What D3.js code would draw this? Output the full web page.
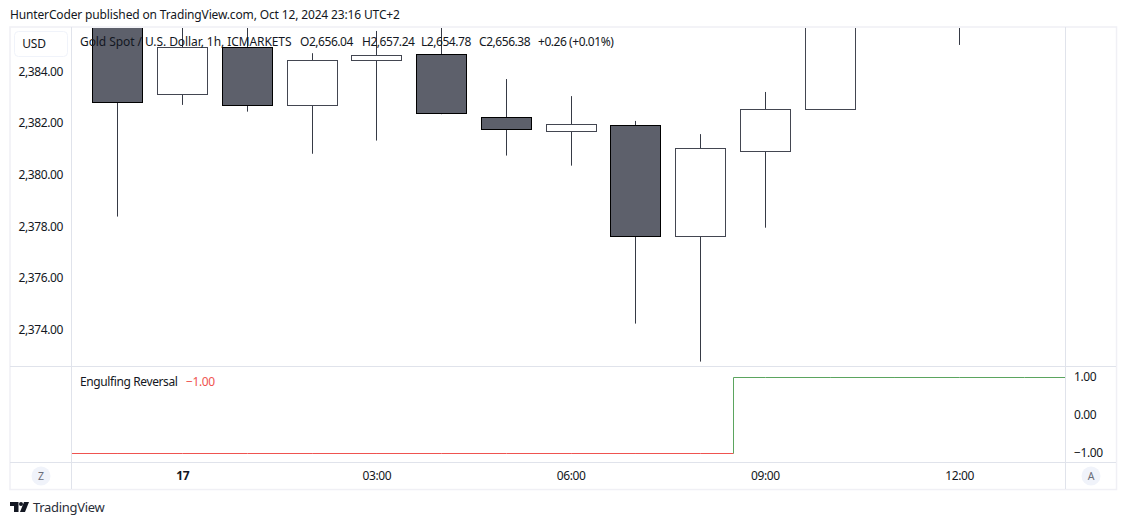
<!DOCTYPE html>
<html>
<head>
<meta charset="utf-8">
<script src="https://cdn.jsdelivr.net/npm/d3@7"></script>
<style>
  html, body { margin: 0; padding: 0; background: #fff; overflow: hidden; }
  svg { display: block; }
  text { font-family: "Noto Sans", sans-serif; fill: #131722; }
</style>
</head>
<body>
<div id="chart"></div>
<script>
// values, offscreen ones are guesses
var hours = [-1, 0, 1, 2, 3, 4, 5, 6, 7, 8, 9, 10, 11, 12];
var opens = [2386.2, 2383.11, 2384.92, 2382.68, 2384.44, 2384.66, 2382.22, 2381.68, 2381.91, 2377.62, 2380.91, 2382.53, 2388.4, 2388.0];
var highs = [2387.0, 2385.8, 2386.0, 2384.70, 2385.56, 2385.9, 2383.70, 2383.04, 2382.08, 2381.57, 2383.20, 2388.9, 2391.0, 2391.0];
var lows = [2378.38, 2382.70, 2382.44, 2380.81, 2381.32, 2382.34, 2380.74, 2380.35, 2374.24, 2372.77, 2377.95, 2382.53, 2386.8, 2385.02];
var closes = [2382.79, 2384.93, 2382.68, 2384.43, 2384.62, 2382.38, 2381.76, 2381.95, 2377.62, 2381.02, 2382.53, 2388.4, 2388.0, 2390.0];

var priceTicks = [2384, 2382, 2380, 2378, 2376, 2374];
var signalTicks = [1, 0, -1];
var timeTicks = [0, 3, 6, 9, 12];
var timeLabels = ["17", "03:00", "06:00", "09:00", "12:00"];

var signalHours = [-2, -1, 0, 1, 2, 3, 4, 5, 6, 7, 8, 9, 10, 11, 12, 13, 14];
var signalValues = [-1, -1, -1, -1, -1, -1, -1, -1, -1, -1, -1, 1, 1, 1, 1, 1, 1];

var headerText = "HunterCoder published on TradingView.com, Oct 12, 2024 23:16 UTC+2";
var legendTitle = "Gold Spot / U.S. Dollar, 1h, ICMARKETS";
var legendOhlc = ["O2,656.04", "H2,657.24", "L2,654.78", "C2,656.38", "+0.26 (+0.01%)"];
var legendOhlcX = [300, 362, 421, 479, 538];

var width = 1127, height = 525;
var paneL = 72, paneR = 1065;

var svg = d3.select("#chart").append("svg").attr("width", width).attr("height", height);

var x = d3.scaleLinear().domain([0, 12]).range([182.7, 959.7]);
var y = d3.scaleLinear().domain([2384, 2374]).range([71.3, 329.8]);
var ySignal = d3.scaleLinear().domain([-1, 1]).range([453.5, 377.5]);

function snap(v) {
  return Math.floor(v) + 0.5;
}

var defs = svg.append("defs");
defs.append("clipPath").attr("id", "pricePane").append("rect")
  .attr("x", paneL).attr("y", 28).attr("width", paneR - paneL).attr("height", 338);
defs.append("clipPath").attr("id", "signalPane").append("rect")
  .attr("x", paneL).attr("y", 367).attr("width", paneR - paneL).attr("height", 95);

// candles
var candles = svg.append("g").attr("clip-path", "url(#pricePane)")
  .selectAll("g").data(hours).join("g");

candles.append("line")
  .attr("x1", h => snap(x(h))).attr("x2", h => snap(x(h)))
  .attr("y1", (h, i) => y(highs[i])).attr("y2", (h, i) => y(lows[i]))
  .attr("stroke", "#363a45");

candles.append("rect")
  .attr("x", h => snap(x(h)) - 25)
  .attr("width", 50)
  .attr("y", (h, i) => snap(y(Math.max(opens[i], closes[i]))))
  .attr("height", (h, i) => Math.round(y(Math.min(opens[i], closes[i])) - y(Math.max(opens[i], closes[i]))))
  .attr("fill", (h, i) => closes[i] < opens[i] ? "#5d606b" : "#ffffff")
  .attr("stroke", (h, i) => closes[i] < opens[i] ? "#000000" : "#434651");

// indicator step line, red while -1 and green from the flip on
var flip = signalValues.indexOf(1);
var flipX = snap((x(signalHours[flip - 1]) + x(signalHours[flip])) / 2);

var stepBefore = d3.line()
  .x(d => d[0])
  .y(d => snap(ySignal(d[1])))
  .curve(d3.curveStepBefore);

var redPts = signalHours.slice(0, flip).map((h, i) => [x(h), signalValues[i]]).concat([[flipX, -1]]);
var greenPts = [[flipX, -1]].concat(signalHours.slice(flip).map((h, i) => [x(h), signalValues[flip + i]]));

var signalG = svg.append("g").attr("clip-path", "url(#signalPane)").attr("fill", "none");
signalG.append("path").attr("d", stepBefore(redPts)).attr("stroke", "#ef5350");
signalG.append("path").attr("d", stepBefore(greenPts)).attr("stroke", "#5ba55f");

// frame
var frame = svg.append("g").attr("fill", "none");
frame.append("rect").attr("x", 10).attr("y", 27).attr("width", 1106.5).attr("height", 462.5)
  .attr("stroke", "#f0f0f5").attr("stroke-width", 1.5);
[[71.5, 27, 71.5, 489], [1065.5, 27, 1065.5, 489], [10, 366.5, 1116, 366.5], [10, 462.5, 1116, 462.5]].forEach(function (s) {
  frame.append("line").attr("x1", s[0]).attr("y1", s[1]).attr("x2", s[2]).attr("y2", s[3])
    .attr("stroke", "#e0e3eb");
});

// axes
var priceAxis = d3.axisLeft(y).tickValues(priceTicks).tickFormat(d3.format(",.2f")).tickSize(0).tickPadding(0);
var signalAxis = d3.axisRight(ySignal).tickValues(signalTicks).tickFormat(d3.format(".2f")).tickSize(0).tickPadding(0);
var timeAxis = d3.axisBottom(x).tickValues(timeTicks).tickFormat((d, i) => timeLabels[i]).tickSize(0).tickPadding(0);

function styleAxis(g) {
  g.select(".domain").remove();
  g.selectAll("text").style("font-family", '"Noto Sans", sans-serif').style("font-size", "12px")
    .style("fill", "#131722").style("letter-spacing", "-0.4px");
}

svg.append("g").attr("transform", "translate(63,0)").call(priceAxis).call(styleAxis);
svg.append("g").attr("transform", "translate(1074,-0.5)").call(signalAxis).call(styleAxis);
svg.append("g").attr("transform", "translate(-0.5,471.5)").call(timeAxis).call(styleAxis)
  .selectAll("text").filter((d, i) => i == 0).style("font-weight", "700");

// usd box
svg.append("rect").attr("x", 14.5).attr("y", 31.5).attr("width", 53).attr("height", 25).attr("rx", 4)
  .attr("fill", "#fff").attr("stroke", "#f0f3fa");
svg.append("text").attr("x", 34).attr("y", 48).attr("text-anchor", "middle").attr("font-size", 12)
  .style("letter-spacing", "-0.2px").text("USD");

// legends
svg.append("text").attr("x", 10).attr("y", 18.5).attr("font-size", 12).style("letter-spacing", "-0.145px").text(headerText);
svg.append("text").attr("x", 80).attr("y", 46).attr("font-size", 12).style("letter-spacing", "-0.08px").text(legendTitle);
legendOhlc.forEach(function (t, i) {
  svg.append("text").attr("x", legendOhlcX[i]).attr("y", 46).attr("font-size", 12)
    .style("letter-spacing", "-0.45px").text(t);
});
svg.append("text").attr("x", 80).attr("y", 386).attr("font-size", 12).style("letter-spacing", "-0.39px").text("Engulfing Reversal");
svg.append("text").attr("x", 186).attr("y", 386).attr("font-size", 12).style("letter-spacing", "-0.4px")
  .style("fill", "#ef5350").text("\u22121.00");

// corner buttons
[[41, "Z"], [1091, "A"]].forEach(function (b) {
  svg.append("circle").attr("cx", b[0]).attr("cy", 476).attr("r", 9.5).attr("fill", "#f0f3fa");
  svg.append("text").attr("x", b[0]).attr("y", 480).attr("text-anchor", "middle").attr("font-size", 10.5)
    .style("fill", "#6a6d78").text(b[1]);
});

// logo
var logo = svg.append("g").attr("fill", "#131722");
logo.append("path").attr("d", "M10 502H18.5V512H14V506H10Z");
logo.append("circle").attr("cx", 21).attr("cy", 504).attr("r", 2);
logo.append("path").attr("d", "M24 502H29L25 512H20Z");
svg.append("text").attr("x", 33).attr("y", 512).attr("font-size", 13).style("letter-spacing", "-0.3px")
  .style("fill", "#2a2e39").text("TradingView");
</script>
</body>
</html>
